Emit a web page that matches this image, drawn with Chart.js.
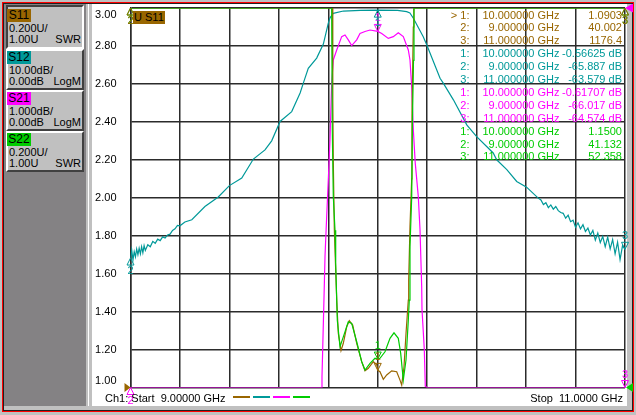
<!DOCTYPE html>
<html lang="en">
<head>
<meta charset="UTF-8">
<title>Ch1 S-parameters</title>
<script src="https://cdn.jsdelivr.net/npm/chart.js"></script>
<style>
body { margin:0; width:636px; height:415px; background:#c0c0c0; position:relative; overflow:hidden;
       font-family:"Liberation Sans", Arial, sans-serif; font-size:11px; color:#000; }
.frame  { position:absolute; left:2px; top:2px; width:632px; height:410px; box-sizing:border-box; border:1px solid #ff0000; }
.frame2 { position:absolute; left:3px; top:3px; width:630px; height:408px; box-sizing:border-box; border:1px solid #202020; }
.side   { position:absolute; left:4px; top:4px; width:82px; height:402px; background:#848284; }
.strip  { position:absolute; left:88px; top:4px; width:1px; height:402px; background:#fff; }
.screen { position:absolute; left:92px; top:4px; width:535px; height:402px; background:#fff; }
.btn { position:absolute; left:6px; width:78px; height:41px; box-sizing:border-box; background:#c0c0c0;
       border:2px solid; border-color:#fff #404040 #404040 #fff; }
.btn.on { height:44px; border-color:#404040 #fff #fff #404040; }
.tag { position:absolute; left:-1px; top:0; width:24px; height:13px; line-height:13px; font-size:12px; text-align:center; }
.l2  { position:absolute; left:1px; top:13px; line-height:13px; }
.l3  { position:absolute; left:1px; right:1px; top:24px; line-height:13px; display:flex; justify-content:space-between; }
.on .tag { top:2px; } .on .l2 { top:15px; } .on .l3 { top:26px; }
#vna { position:absolute; left:92px; top:4px; }
.txt { position:absolute; line-height:13px; white-space:pre; }
.seg { position:absolute; top:396px; width:17px; height:2px; }
.usel { position:absolute; left:133px; top:11px; height:13px; line-height:13px; background:#996600; font-size:11px;
        padding:0 1px; white-space:pre; }
</style>
</head>
<body>
<div class="frame"></div>
<div class="frame2"></div>
<div class="side"></div>
<div class="strip"></div>
<div class="screen"></div>

<div class="btn on" style="top:5px"><div class="tag" style="background:#996600">S11</div>
  <div class="l2">0.200U/</div><div class="l3"><span>1.00U</span><span>SWR</span></div></div>
<div class="btn" style="top:49px"><div class="tag" style="background:#009999">S12</div>
  <div class="l2">10.00dB/</div><div class="l3"><span>0.00dB</span><span>LogM</span></div></div>
<div class="btn" style="top:90px"><div class="tag" style="background:#ff00ff">S21</div>
  <div class="l2">1.000dB/</div><div class="l3"><span>0.00dB</span><span>LogM</span></div></div>
<div class="btn" style="top:131px"><div class="tag" style="background:#00cc00">S22</div>
  <div class="l2">0.200U/</div><div class="l3"><span>1.00U</span><span>SWR</span></div></div>

<canvas id="vna" width="544" height="402"></canvas>
<div class="usel">U S11</div>
<div id="markers"></div>

<div class="txt" style="left:105px;top:392px">Ch1: Start  9.00000 GHz</div>
<div class="seg" style="left:233px;background:#996600"></div>
<div class="seg" style="left:253px;background:#009999"></div>
<div class="seg" style="left:273px;background:#ff00ff"></div>
<div class="seg" style="left:293px;background:#00cc00"></div>
<div class="txt" style="right:13px;top:392px">Stop  11.0000 GHz</div>

<script>
// sweep, GHz
const startGHz = 9.0;
const stopGHz = 11.0;

// traces as [GHz, value]  (SWR for S11/S22, dB for S12/S21)
const s11Trace = [
  [9.000, 40.0], [9.400, 80], [9.700, 30], [9.810, 6], [9.8161, 3.0], [9.8182, 2.513], [9.8202, 2.197],
  [9.8243, 1.837], [9.8299, 1.618], [9.834, 1.461], [9.8405, 1.285], [9.8514, 1.194], [9.8607, 1.233],
  [9.8744, 1.32], [9.8849, 1.352], [9.8987, 1.329], [9.9149, 1.233], [9.9351, 1.136], [9.9484, 1.088],
  [9.9618, 1.101], [9.982, 1.136], [9.9957, 1.12], [10.000, 1.0903], [10.009, 1.083], [10.0225, 1.043],
  [10.0362, 1.066], [10.0564, 1.088], [10.0766, 1.083], [10.090, 1.039], [10.0969, 1.013], [10.1062, 1.109],
  [10.1143, 1.285], [10.1236, 1.461], [10.1251, 1.566], [10.1304, 1.85], [10.1373, 2.1], [10.1385, 2.45],
  [10.1438, 2.9], [10.146, 3.05], [10.160, 8], [10.600, 200], [11.000, 1176.4]
];
const s22Trace = [
  [9.000, 41.132], [9.400, 90], [9.700, 25], [9.805, 5], [9.8137, 3.0], [9.8162, 2.355], [9.8202, 2.008],
  [9.8271, 1.829], [9.8299, 1.655], [9.8364, 1.355], [9.8473, 1.215], [9.8607, 1.267], [9.8809, 1.346],
  [9.8946, 1.338], [9.9149, 1.241], [9.9351, 1.136], [9.9484, 1.092], [9.9687, 1.127], [9.9889, 1.154],
  [10.000, 1.15], [10.009, 1.154], [10.0293, 1.188], [10.0495, 1.259], [10.0657, 1.288], [10.0831, 1.259],
  [10.0928, 1.18], [10.1033, 1.039], [10.1143, 1.145], [10.1236, 1.355], [10.1276, 1.461], [10.1304, 1.741],
  [10.1373, 2.004], [10.1397, 2.355], [10.1446, 2.724], [10.1466, 3.0], [10.160, 9], [10.600, 150], [11.000, 52.358]
];
const s12Trace = [
  [9.000, -65.9], [9.005, -63.8], [9.010, -66.4], [9.015, -64.2], [9.020, -65.6], [9.025, -63.5],
  [9.030, -65.0], [9.035, -63.3], [9.040, -64.8], [9.045, -62.9], [9.050, -64.5], [9.055, -62.6],
  [9.060, -63.9], [9.070, -62.4], [9.080, -62.9], [9.090, -61.5], [9.100, -62.0], [9.110, -60.9],
  [9.120, -61.3], [9.130, -60.3], [9.140, -60.6], [9.150, -59.8], [9.160, -59.6], [9.170, -58.6],
  [9.180, -58.2], [9.190, -57.3], [9.200, -57.4], [9.220, -56.4], [9.248, -55.8], [9.301, -52.3],
  [9.355, -49.8], [9.400, -46.8], [9.450, -44.8], [9.497, -39.8], [9.544, -37.4], [9.571, -35.0],
  [9.605, -29.9], [9.652, -27.3], [9.686, -22.4], [9.699, -19.8], [9.719, -15.9], [9.753, -13.2],
  [9.780, -9.5], [9.800, -4.0], [9.807, -2.6], [9.820, -1.4], [9.861, -0.8], [9.930, -0.62],
  [10.000, -0.566], [10.080, -0.65], [10.117, -0.97], [10.130, -1.3], [10.144, -2.7], [10.184, -7.55],
  [10.198, -9.7], [10.252, -18.5], [10.265, -19.8], [10.306, -24.2], [10.360, -30.8], [10.400, -33.9],
  [10.467, -38.2], [10.481, -40.0], [10.522, -42.6], [10.562, -45.7], [10.602, -47.2], [10.649, -50.1],
  [10.66, -50.6], [10.67, -51.8], [10.68, -51.3], [10.69, -52.6], [10.70, -51.9], [10.71, -53.0],
  [10.72, -52.3], [10.73, -53.4], [10.74, -53.9], [10.75, -54.1], [10.76, -55.4], [10.77, -54.6],
  [10.78, -56.3], [10.79, -55.9], [10.80, -57.8], [10.81, -56.6], [10.82, -58.2], [10.83, -57.1],
  [10.84, -58.9], [10.85, -58.0], [10.86, -59.8], [10.87, -58.6], [10.88, -61.2], [10.89, -59.3],
  [10.90, -61.8], [10.91, -60.2], [10.92, -62.9], [10.93, -60.4], [10.94, -63.5], [10.95, -61.0],
  [10.96, -64.8], [10.97, -61.7], [10.98, -66.3], [10.99, -62.6], [11.00, -63.6]
];
const s21Trace = [
  [9.000, -66.0], [9.400, -46.9], [9.700, -19.9], [9.765, -11.5], [9.7725, -10.0], [9.7745, -9.71],
  [9.7838, -7.33], [9.7867, -6.54], [9.7935, -5.49], [9.800, -4.53], [9.8069, -3.47], [9.8137, -1.97],
  [9.8202, -1.37], [9.834, -1.105], [9.8542, -0.755], [9.8675, -0.71], [9.8809, -0.84], [9.8946, -0.99],
  [9.9149, -0.84], [9.9282, -0.67], [9.9484, -0.62], [9.9687, -0.58], [10.000, -0.617], [10.016, -0.67],
  [10.0427, -0.8], [10.0629, -0.755], [10.0831, -0.65], [10.1033, -0.755], [10.1236, -1.105], [10.1304, -1.37],
  [10.1373, -2.07], [10.1438, -3.2], [10.1516, -4.08], [10.164, -4.97], [10.1709, -5.84], [10.1777, -7.33],
  [10.179, -7.95], [10.1883, -9.0], [10.1923, -9.97], [10.200, -11.0], [10.300, -24.0], [10.600, -47.0],
  [11.000, -64.574]
];

// marker readouts
const markerFreq = [10.0, 9.0, 11.0];
const markerS11 = [1.0903, 40.002, 1176.4];
const markerS12 = [-0.56625, -65.887, -63.579];
const markerS21 = [-0.61707, -66.017, -64.574];
const markerS22 = [1.1500, 41.132, 52.358];

const cS11 = '#996600', cS12 = '#009999', cS21 = '#ff00ff', cS22 = '#00cc00';

// the analyzer pins off-screen values to the graticule edge
const clamp = (v, lo, hi) => Math.min(hi, Math.max(lo, v));
const axisRange = { ySwr: [1, 3], yDb10: [-100, 0], yDb1: [-10, 0] };
const toPts = (trace, ax) => trace.map(p => ({ x: p[0], y: clamp(p[1], axisRange[ax][0], axisRange[ax][1]) }));

const traces = [
  { name: 'S22', axis: 'ySwr', color: cS22, data: s22Trace, marks: markerS22, unit: '' },
  { name: 'S11', axis: 'ySwr', color: cS11, data: s11Trace, marks: markerS11, unit: '' },
  { name: 'S21', axis: 'yDb1', color: cS21, data: s21Trace, marks: markerS21, unit: ' dB' },
  { name: 'S12', axis: 'yDb10', color: cS12, data: s12Trace, marks: markerS12, unit: ' dB' }
];

const markerPlugin = {
  id: 'vnaMarkers',
  afterDatasetsDraw(chart) {
    const ctx = chart.ctx, xs = chart.scales.x, a = chart.chartArea;
    ctx.save();
    ctx.lineWidth = 1;
    ctx.font = '11px "Liberation Sans", Arial, sans-serif';
    ctx.textAlign = 'center';
    ctx.textBaseline = 'middle';
    traces.forEach(t => {
      const ys = chart.scales[t.axis];
      t.marks.forEach((val, i) => {
        const r = axisRange[t.axis];
        const px = xs.getPixelForValue(markerFreq[i]);
        const py = ys.getPixelForValue(clamp(val, r[0], r[1]));
        const below = i === 1 || py < a.top + 20;
        const d = below ? 1 : -1;
        ctx.strokeStyle = t.color;
        ctx.fillStyle = t.color;
        ctx.beginPath();
        ctx.moveTo(px, py);
        ctx.lineTo(px - 3.5, py + d * 7);
        ctx.lineTo(px + 3.5, py + d * 7);
        ctx.closePath();
        ctx.stroke();
        ctx.fillText(String(i + 1), px, py + d * 13);
      });
    });
    // reference position arrows
    const yS = chart.scales.ySwr.getPixelForValue(1.0);
    const yD = chart.scales.yDb1.getPixelForValue(0);
    const tri = (x0, y0, x1, col) => {
      ctx.fillStyle = col;
      ctx.beginPath();
      ctx.moveTo(x0, y0); ctx.lineTo(x1, y0 - 4.5); ctx.lineTo(x1, y0 + 4.5);
      ctx.closePath(); ctx.fill();
    };
    tri(a.left, yS, a.left - 6, cS11);
    tri(a.right + 1, yS, a.right + 8, cS22);
    tri(a.right, yD, a.right + 8, cS21);
    ctx.restore();
  }
};

const noSpace = s => { s.paddingTop = 0; s.paddingBottom = 0; s.paddingLeft = 0; s.paddingRight = 0; };

new Chart(document.getElementById('vna'), {
  type: 'line',
  data: {
    datasets: traces.map(t => ({
      label: t.name,
      data: toPts(t.data, t.axis),
      yAxisID: t.axis,
      borderColor: t.color,
      borderWidth: 1.2,
      pointRadius: 0,
      tension: 0,
      fill: false
    }))
  },
  options: {
    responsive: false,
    animation: false,
    devicePixelRatio: 1,
    layout: { padding: { top: 4, right: 11, bottom: 18.5, left: 0 } },
    plugins: { legend: { display: false }, tooltip: { enabled: false } },
    scales: {
      x: {
        type: 'linear', min: startGHz, max: stopGHz,
        ticks: { stepSize: 0.2, display: false },
        grid: { color: '#2b2b2b', lineWidth: 1.5, drawTicks: false },
        border: { display: false },
        afterFit: s => { s.height = 0; noSpace(s); }
      },
      ySwr: {
        type: 'linear', position: 'left', min: 1, max: 3,
        ticks: {
          stepSize: 0.2, padding: 14, color: '#000',
          font: { family: '"Liberation Sans", Arial, sans-serif', size: 11 },
          callback: v => {
            const s = v.toFixed(2);
            if (Math.abs(v - 3) < 1e-6) return ['', s];
            if (Math.abs(v - 1) < 1e-6) return [s, ''];
            return s;
          }
        },
        grid: { color: '#2b2b2b', lineWidth: 1.5, drawTicks: false },
        border: { color: '#2b2b2b', width: 1.5 },
        afterFit: s => { s.width = 38.5; noSpace(s); }
      },
      yDb10: { type: 'linear', display: false, min: -100, max: 0 },
      yDb1: { type: 'linear', display: false, min: -10, max: 0 }
    }
  },
  plugins: [markerPlugin]
});

// marker readout table
const box = document.getElementById('markers');
let row = 0;
[1, 3, 2, 0].forEach(ti => {
  const t = traces[ti];
  t.marks.forEach((val, i) => {
    const top = 15 - 6.5 + row * 12.9;
    const cells = [
      [(ti === 1 && i === 0 ? '> ' : '') + (i + 1) + ':', 166.5],
      [markerFreq[i].toFixed(6) + ' GHz', 76.5],
      [val.toPrecision(5) + t.unit, 14]
    ];
    cells.forEach(c => {
      const d = document.createElement('div');
      d.className = 'txt';
      d.style.right = c[1] + 'px';
      d.style.top = top + 'px';
      d.style.color = t.color;
      d.textContent = c[0];
      box.appendChild(d);
    });
    row++;
  });
});
</script>
</body>
</html>
